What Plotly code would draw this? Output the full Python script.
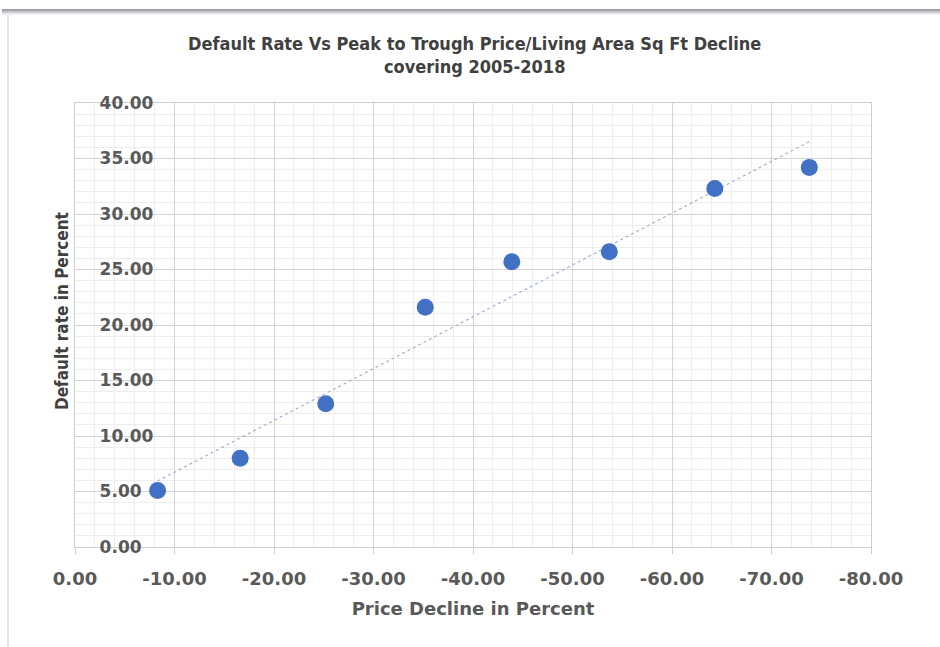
import numpy as np
import plotly.graph_objects as go

# Data
price_decline = [-8.3, -16.6, -25.2, -35.2, -43.9, -53.7, -64.3, -73.8]
default_rate = [5.1, 8.0, 12.9, 21.6, 25.7, 26.6, 32.3, 34.2]
x_ticks = [0, -10, -20, -30, -40, -50, -60, -70, -80]
y_ticks = [0, 5, 10, 15, 20, 25, 30, 35, 40]

# Linear trendline
slope, intercept = np.polyfit(price_decline, default_rate, 1)
tx = [min(price_decline), max(price_decline)]
ty = [slope * v + intercept for v in tx]

W, H = 940, 647
L, R, T, B = 75, 871, 103, 547

fig = go.Figure()
fig.add_trace(go.Scatter(x=tx, y=ty, mode="lines",
                         line=dict(color="#9fb2d8", width=1.2, dash="dot"),
                         hoverinfo="skip", showlegend=False))
fig.add_trace(go.Scatter(x=price_decline, y=default_rate, mode="markers",
                         marker=dict(color="#4170c4", size=17, line=dict(width=0)),
                         showlegend=False))

def px2paper_x(p):
    return (p - L) / (R - L)

def px2paper_y(p):
    return (B - p) / (B - T)

shapes = []
# top gray gradient bar
grays = ["#9a9ca3", "#a9abb1", "#bcbec3", "#d0d2d6", "#e4e5e7", "#f1f1f2"]
for i, g in enumerate(grays):
    shapes.append(dict(type="rect", xref="paper", yref="paper",
                       x0=px2paper_x(2), x1=px2paper_x(940),
                       y0=px2paper_y(9 + i + 1), y1=px2paper_y(9 + i),
                       fillcolor=g, line=dict(width=0), layer="above"))
# left light border
shapes.append(dict(type="rect", xref="paper", yref="paper",
                   x0=px2paper_x(7), x1=px2paper_x(9),
                   y0=px2paper_y(647), y1=px2paper_y(15),
                   fillcolor="#e3e3e3", line=dict(width=0), layer="above"))

fig.update_layout(
    width=W, height=H,
    margin=dict(l=L, r=W - R, t=T, b=H - B),
    paper_bgcolor="white", plot_bgcolor="white",
    title=dict(text="Default Rate Vs Peak to Trough Price/Living Area Sq Ft Decline<br>covering 2005-2018",
               x=0.505, xanchor="center", y=1 - 50 / H, yanchor="middle",
               font=dict(family="DejaVu Sans Condensed", size=18, color="#404040", weight="bold")),
    shapes=shapes,
    annotations=[dict(text="Default rate in Percent", textangle=-90,
                      xref="paper", yref="paper",
                      x=px2paper_x(62), y=px2paper_y(311),
                      xanchor="center", yanchor="middle", showarrow=False,
                      font=dict(family="DejaVu Sans Condensed", size=17, color="#404040", weight="bold"))],
    xaxis=dict(range=[0, -80], tickvals=x_ticks,
               ticktext=[f"{v:.2f}" if v != 0 else "0.00" for v in x_ticks],
               showgrid=True, gridcolor="#d4d4d4", gridwidth=1,
               minor=dict(dtick=2, showgrid=True, gridcolor="#ededed", gridwidth=1),
               showline=True, linecolor="#cfcfcf", linewidth=1, mirror=True,
               ticks="outside", ticklen=6, tickcolor="#cfcfcf",
               zeroline=False, ticklabeloverflow="allow",
               ticklabelstandoff=9,
               tickfont=dict(family="DejaVu Sans", size=18, color="#595959", weight="bold"),
               title=dict(text="Price Decline in Percent", standoff=14,
                          font=dict(family="DejaVu Sans", size=18, color="#595959", weight="bold"))),
    yaxis=dict(range=[0, 40], tickvals=y_ticks,
               ticktext=[f"{v:.2f}" for v in y_ticks],
               showgrid=True, gridcolor="#d4d4d4", gridwidth=1,
               minor=dict(dtick=1, showgrid=True, gridcolor="#ededed", gridwidth=1),
               showline=True, linecolor="#cfcfcf", linewidth=1, mirror=True,
               ticks="", zeroline=False,
               ticklabelposition="inside", ticklabelstandoff=25,
               ticklabeloverflow="allow",
               tickfont=dict(family="DejaVu Sans", size=17, color="#595959", weight="bold")),
)

fig.write_html("out.html")
